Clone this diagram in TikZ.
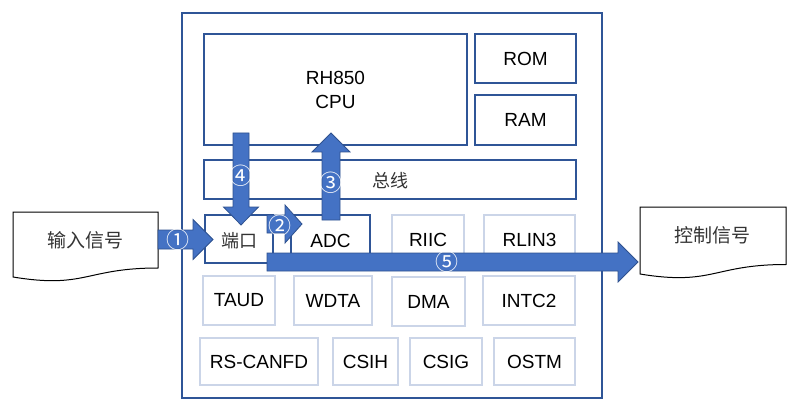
\documentclass[tikz,border=0pt]{standalone}
\usepackage{fontspec}
\setmainfont{Liberation Sans}
\newfontfamily\cjk{Noto Sans CJK SC}
\definecolor{darkb}{HTML}{2F5597}
\definecolor{lightb}{HTML}{CBD5E8}
\definecolor{arrfill}{HTML}{4472C4}
\definecolor{arrline}{HTML}{2F528F}
\definecolor{cjktext}{HTML}{333333}
\tikzset{
  darkbox/.style={draw=darkb, line width=2pt, fill=white, inner sep=0pt, font=\fontsize{19}{24}\selectfont, align=center},
  lightbox/.style={draw=lightb, line width=2pt, fill=white, inner sep=0pt, font=\fontsize{19}{24}\selectfont, align=center},
  blockarrow/.style={fill=arrfill, draw=arrline, line width=0.8pt, line join=miter},
  numlabel/.style={text=white, font=\cjk\fontsize{23}{23}\selectfont, inner sep=0pt},
  cjklabel/.style={text=cjktext, font=\cjk\fontsize{19}{19}\selectfont, inner sep=0pt},
  cjksmall/.style={text=cjktext, font=\cjk\fontsize{18}{18}\selectfont, inner sep=0pt},
  docshape/.style={draw=black, line width=1pt, fill=white}
}
\begin{document}
\begin{tikzpicture}[x=1pt,y=-1pt]
\useasboundingbox (0,0) rectangle (790,409);
\fill[white] (0,0) rectangle (790,409);
% outer chip
\node[draw=darkb, line width=2.5pt, minimum width=420, minimum height=385, inner sep=0pt] (chip) at (392,205.5) {};
% top blocks
\node[darkbox, minimum width=263, minimum height=111] (cpu) at (335.5,89.5) {RH850\\CPU};
\node[darkbox, minimum width=101, minimum height=49] (rom) at (525.5,58.5) {ROM};
\node[darkbox, minimum width=101, minimum height=50] (ram) at (525.5,120) {RAM};
\node[darkbox, minimum width=372, minimum height=39] (bus) at (390,179.5) {};
\node[cjksmall] (bustext) at (390,181) {总线};
% row 1
\node[darkbox, minimum width=68, minimum height=48] (port) at (239,239) {};
\node[cjksmall] (porttext) at (239,241) {端口};
\node[darkbox, minimum width=79, minimum height=50] (adc) at (330.5,240) {};
\node (adctext) at (330.5,241) [font=\fontsize{19}{24}\selectfont] {ADC};
\node[lightbox, minimum width=72, minimum height=48] (riic) at (428,239) {};
\node (riictext) at (428,240) [font=\fontsize{19}{24}\selectfont] {RIIC};
\node[lightbox, minimum width=91, minimum height=48] (rlin) at (529.5,239) {};
\node (rlintext) at (529.5,240) [font=\fontsize{19}{24}\selectfont] {RLIN3};
% row 2
\node[lightbox, minimum width=72, minimum height=49] (taud) at (239,300.5) {TAUD};
\node[lightbox, minimum width=78, minimum height=49] (wdta) at (333,300.5) {WDTA};
\node[lightbox, minimum width=73, minimum height=49] (dma) at (428.5,301.5) {DMA};
\node[lightbox, minimum width=92, minimum height=49] (intc) at (529,300.5) {INTC2};
% row 3
\node[lightbox, minimum width=118, minimum height=47] (rscan) at (259,361.5) {RS-CANFD};
\node[lightbox, minimum width=65, minimum height=47] (csih) at (365.5,361.5) {CSIH};
\node[lightbox, minimum width=72, minimum height=47] (csig) at (446,361.5) {CSIG};
\node[lightbox, minimum width=81, minimum height=47] (ostm) at (534.5,361.5) {OSTM};
% document shapes
\draw[docshape] (13,212) -- (158,212) -- (158,268) .. controls (85.5,268) and (85.5,289) .. (13,277) -- cycle;
\node[cjklabel] (insig) at (85,240) {输入信号};
\draw[docshape] (640,207) -- (786,207) -- (786,264.5) .. controls (713,264.5) and (713,286) .. (640,274) -- cycle;
\node[cjklabel] (outsig) at (712,235) {控制信号};
% arrows
% 1: input -> port
\filldraw[blockarrow] (158,230) -- (193,230) -- (193,219.5) -- (213,239.5) -- (193,259.5) -- (193,249) -- (158,249) -- cycle;
\node[numlabel] (n1) at (178,240) {①};
% 2: port -> adc
\filldraw[blockarrow] (267,215) -- (285,215) -- (285,205) -- (302,224) -- (285,243) -- (285,233) -- (267,233) -- cycle;
\node[numlabel] (n2) at (280,226) {②};
% 4: cpu -> port
\filldraw[blockarrow] (233,133) -- (249,133) -- (249,207) -- (258.5,207) -- (241,225) -- (223.5,207) -- (233,207) -- cycle;
\node[numlabel] (n4) at (241,176) {④};
% 3: adc -> cpu
\filldraw[blockarrow] (322,220) -- (322,152) -- (312,152) -- (331,133) -- (350,152) -- (340,152) -- (340,220) -- cycle;
\node[numlabel] (n3) at (331,183) {③};
% 5: port -> control signal
\filldraw[blockarrow] (267,253) -- (618,253) -- (618,242) -- (638,262) -- (618,282) -- (618,271) -- (267,271) -- cycle;
\node[numlabel] (n5) at (447,262) {⑤};
\end{tikzpicture}
\end{document}
